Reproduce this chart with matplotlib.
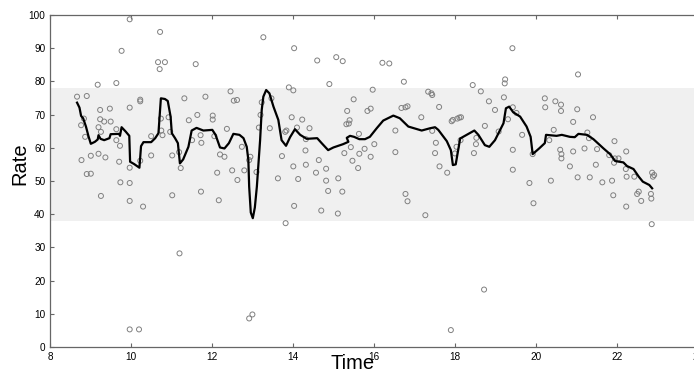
#!/usr/bin/env python
#*******************************************************************************
#plot.py
#*******************************************************************************

#Purpose:
#Scatter of individual rates over time, with a smoothed running curve drawn on
#top and a shaded band marking the normal range. Saves the figure as out.png.


#*******************************************************************************
#Import Python modules
#*******************************************************************************
import numpy
import matplotlib
matplotlib.use('Agg')
import matplotlib.pyplot as plt


#*******************************************************************************
#Data
#*******************************************************************************
ZV_obs_time=[8.66,8.90,8.76,8.83,8.86,8.77,8.90,9.00,9.00,9.17,9.19,9.19,9.23,
             9.23,9.25,9.25,9.33,9.36,9.47,9.49,9.63,9.63,9.63,9.70,9.72,9.73,
             9.76,9.96,9.96,9.96,9.96,9.96,9.96,10.19,10.22,10.22,10.22,10.29,
             10.49,10.49,10.66,10.70,10.71,10.83,10.73,10.74,10.77,10.92,10.96,
             11.01,11.01,11.19,11.18,11.22,11.31,11.42,11.50,11.59,11.63,11.71,
             11.73,11.72,11.83,12.01,12.01,12.05,12.12,12.16,12.19,12.30,12.36,
             12.45,12.49,12.53,12.61,12.62,12.73,12.79,12.91,12.94,12.91,12.99,
             13.09,13.15,13.19,13.22,13.26,13.42,13.46,13.62,13.72,13.80,13.83,
             13.81,13.89,14.00,13.96,14.02,14.00,14.02,14.09,14.12,14.22,14.30,
             14.31,14.31,14.40,14.56,14.59,14.63,14.69,14.81,14.81,14.86,14.89,
             15.06,15.10,15.11,15.21,15.22,15.26,15.31,15.37,15.33,15.39,15.42,
             15.46,15.49,15.60,15.62,15.63,15.76,15.83,15.91,15.91,15.96,16.00,
             16.20,16.37,16.52,16.52,16.67,16.77,16.82,16.73,16.77,16.82,17.16,
             17.26,17.33,17.41,17.43,17.43,17.50,17.52,17.60,17.61,17.80,17.89,
             17.91,17.94,18.05,18.10,18.14,17.99,18.03,18.13,18.43,18.46,18.51,
             18.52,18.63,18.71,18.73,18.83,18.98,19.07,19.20,19.22,19.23,19.30,
             19.41,19.42,19.51,19.42,19.42,19.65,19.83,19.91,19.93,20.21,20.22,
             20.32,20.36,20.43,20.47,20.59,20.61,20.61,20.62,20.62,20.83,20.91,
             20.91,21.01,21.02,21.03,21.19,21.26,21.30,21.32,21.40,21.47,21.50,
             21.63,21.80,21.87,21.90,21.92,21.93,21.94,22.03,22.21,22.22,22.23,
             22.22,22.42,22.49,22.53,22.59,22.83,22.84,22.86,22.91,22.88,22.85]

ZV_obs_rate=[75.4,75.6,66.8,68.8,63.3,56.3,52.1,52.2,57.6,79.0,58.2,66.2,71.4,
             68.6,64.8,45.5,67.9,57.1,71.8,67.9,79.5,65.6,62.3,55.8,60.6,49.6,
             89.2,98.7,72.1,54.0,49.4,44.0,5.3,5.3,74.5,74.0,56.1,42.3,
             63.5,57.7,85.8,83.7,94.9,85.8,68.8,65.2,63.8,69.2,64.8,
             57.7,45.7,28.2,58.7,53.9,74.9,68.3,62.3,85.2,69.9,63.8,
             61.5,46.8,75.4,69.7,68.5,63.5,52.5,44.2,58.0,57.3,65.7,
             77.0,53.2,74.2,74.4,50.3,60.3,53.2,56.3,57.3,8.6,9.8,
             52.7,66.1,69.9,73.7,93.3,65.9,74.9,50.8,57.5,64.8,65.2,
             37.3,78.2,77.3,69.2,90.0,54.4,42.5,66.1,50.6,68.5,59.2,
             62.6,54.9,65.9,52.5,86.3,56.3,41.1,53.7,50.1,47.0,79.2,
             87.3,40.2,50.8,46.8,86.1,58.4,67.1,67.3,71.1,68.3,60.2,
             56.1,74.6,53.9,64.2,58.2,59.7,71.1,71.8,57.3,77.5,61.1,
             85.6,85.4,65.2,58.7,72.0,72.2,72.5,79.9,46.1,43.9,69.2,
             39.7,76.9,76.4,75.9,65.1,58.4,61.5,72.3,54.4,52.5,5.1,
             68.0,68.4,68.8,69.1,69.2,58.3,60.3,62.3,78.9,58.4,61.1,
             63.0,77.0,17.3,66.6,74.0,71.4,64.9,75.2,79.4,80.6,68.6,
             90.0,72.2,70.5,59.4,53.4,63.9,49.4,58.1,43.3,74.9,72.2,
             62.3,50.1,65.4,74.0,59.4,73.0,71.1,58.1,56.8,54.4,67.8,
             58.9,71.6,51.1,82.1,59.8,64.6,62.9,51.1,69.2,54.9,59.6,
             49.6,57.8,50.1,45.7,55.5,62.0,56.8,56.8,53.6,58.9,51.3,
             42.3,51.3,46.1,46.8,44.0,46.1,44.7,52.5,51.8,51.3,37.0]

ZV_fit_time=[8.66,8.72,8.76,8.81,8.88,8.94,9.00,9.10,9.17,9.19,9.24,9.33,9.46,
             9.49,9.70,9.72,9.76,9.86,9.95,9.97,10.07,10.20,10.24,10.30,10.49,
             10.59,10.67,10.73,10.83,10.90,10.97,11.00,11.08,11.15,11.20,11.28,
             11.41,11.49,11.61,11.78,12.00,12.08,12.19,12.30,12.41,12.52,12.67,
             12.77,12.85,12.89,12.91,12.95,13.00,13.05,13.10,13.18,13.22,13.26,
             13.33,13.41,13.51,13.63,13.71,13.82,13.92,14.04,14.17,14.33,14.59,
             14.70,14.86,14.99,15.23,15.36,15.32,15.40,15.50,15.63,15.77,15.89,
             16.06,16.22,16.47,16.63,16.84,17.17,17.38,17.50,17.58,17.79,17.89,
             17.94,18.01,18.12,18.28,18.47,18.57,18.73,18.84,18.98,19.19,19.25,
             19.33,19.43,19.60,19.76,19.86,19.91,20.07,20.21,20.24,20.50,20.63,
             20.83,20.95,21.04,21.25,21.41,21.66,21.82,21.95,22.15,22.24,22.40,
             22.53,22.63,22.79,22.86]

ZV_fit_rate=[73.6,72.1,69.6,68.9,66.4,63.6,61.2,61.8,62.5,63.8,62.7,62.3,62.9,
             64.1,64.2,63.6,66.2,64.9,63.6,55.8,55.1,54.0,60.5,61.7,61.7,
             62.9,64.4,74.9,74.7,74.1,69.4,64.4,62.9,61.4,55.3,56.5,
             60.3,65.2,66.0,65.2,65.4,63.9,60.1,59.8,61.4,64.2,63.9,
             62.9,60.3,56.3,48.3,40.5,38.8,42.0,48.3,62.3,71.4,75.4,
             77.4,76.4,72.4,68.4,62.3,60.6,63.2,65.6,63.9,62.7,62.9,
             61.4,59.3,60.1,61.1,61.8,63.0,63.6,63.3,62.6,62.6,63.3,
             65.9,68.2,69.7,68.9,66.4,65.2,65.9,66.2,65.4,62.0,59.3,
             54.8,55.0,62.8,63.9,65.2,63.9,60.8,60.3,62.3,67.4,71.9,
             72.4,70.7,69.4,66.4,63.3,58.1,59.8,61.4,63.9,63.6,63.9,
             63.3,63.2,64.2,63.9,62.6,59.8,58.1,56.0,55.6,54.5,53.6,
             51.3,49.8,48.8,47.8]

ZS_bnd_low=38
ZS_bnd_upp=78


#*******************************************************************************
#Generating plot
#*******************************************************************************
plt.rcParams['font.family']=['Liberation Sans','DejaVu Sans']

fig=plt.figure(figsize=(6.94,3.73),dpi=100)
ax=fig.add_axes([0.0725,0.0697,0.9337,0.8901])

#-------------------------------------------------------------------------------
#Normal range band, points and running curve
#-------------------------------------------------------------------------------
ax.axhspan(ZS_bnd_low,ZS_bnd_upp,color='#f0f0f0',linewidth=0,zorder=0)

ax.scatter(ZV_obs_time,ZV_obs_rate,s=13,facecolors='none',                    \
           edgecolors='#808080',linewidths=0.7,zorder=2)

ax.plot(ZV_fit_time,ZV_fit_rate,color='black',linewidth=1.6,zorder=3)

#-------------------------------------------------------------------------------
#Axes
#-------------------------------------------------------------------------------
ax.set_xlim(8,24)
ax.set_ylim(0,100)
ax.set_xticks(numpy.arange(8,25,2))
ax.set_yticks(numpy.arange(0,101,10))
ax.tick_params(direction='in',top=True,right=True,length=3,width=0.8,          \
               color='#666666',labelsize=7.2,pad=3.5)
for spine in ax.spines.values():
     spine.set_color('#666666')
     spine.set_linewidth(0.9)

fig.text(20/694.,1-164/373.,'Rate',rotation=90,ha='center',va='center',       \
         fontsize=14.5)
fig.text(352.7/694.,1-354/373.,'Time',ha='center',va='top',fontsize=14.5)

plt.savefig('out.png',dpi=100)


#*******************************************************************************
#End
#*******************************************************************************
